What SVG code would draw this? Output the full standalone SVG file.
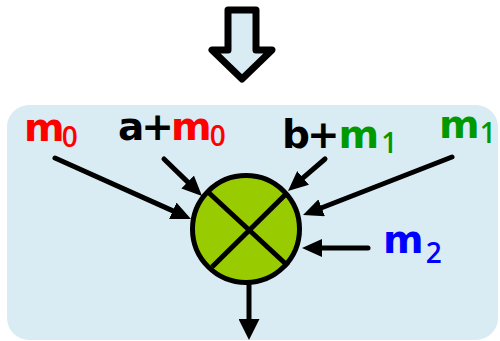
<svg xmlns="http://www.w3.org/2000/svg" width="500" height="341" viewBox="0 0 500 341">
<defs>
<style>
.lbl{font-family:"DejaVu Sans",Verdana,sans-serif;font-weight:bold;font-size:39px;letter-spacing:-3px}
.sub{font-family:"Open Sans","DejaVu Sans",sans-serif;font-weight:600;font-size:28px}
.r{fill:#ff0000}.g{fill:#009a00}.b{fill:#0000ff}.k{fill:#000}
.conn line{stroke:#000;stroke-width:5;stroke-linecap:round;marker-end:url(#ah)}
</style>
<marker id="ah" markerUnits="userSpaceOnUse" markerWidth="20" markerHeight="18" viewBox="0 0 20 18" refX="2" refY="9" orient="auto">
<path d="M0,0 L20,9 L0,18 z" fill="#000"/>
</marker>
<marker id="ah2" markerUnits="userSpaceOnUse" markerWidth="21" markerHeight="21" viewBox="0 0 21 21" refX="2" refY="10.5" orient="auto">
<path d="M0,0 L21,10.5 L0,21 z" fill="#000"/>
</marker>
</defs>
<g id="down-arrow">
<path d="M228,10 L256,10 L256,50 L272,50 L242,79 L212,50 L228,50 Z" fill="#daecf3" stroke="#000" stroke-width="7" stroke-linejoin="round"/>
</g>
<g id="panel">
<rect x="7" y="105" width="491" height="235" rx="22" fill="#daecf3"/>
</g>
<g id="multiplier">
<circle cx="246" cy="229" r="53.5" fill="#99cc00" stroke="#000" stroke-width="5"/>
<line x1="208" y1="192" x2="288" y2="266" stroke="#000" stroke-width="5"/>
<line x1="287" y1="193" x2="212" y2="267" stroke="#000" stroke-width="5"/>
</g>
<g id="connectors" class="conn">
<line x1="55" y1="158" x2="174.6" y2="211.6"/>
<line x1="164" y1="159" x2="189.1" y2="183.4"/>
<line x1="325" y1="159" x2="301.6" y2="179.2"/>
<line x1="452" y1="157" x2="319.8" y2="208.5"/>
<line x1="368" y1="248" x2="320" y2="248"/>
<line x1="249" y1="285" x2="249" y2="321" style="marker-end:url(#ah2)"/>
</g>
<g id="label-m0">
<text x="24" y="141"><tspan class="lbl r">m</tspan><tspan class="sub r" dy="6">0</tspan></text>
</g>
<g id="label-a-m0">
<text x="118" y="140"><tspan class="lbl k">a+</tspan><tspan class="lbl r">m</tspan><tspan class="sub r" dx="1" dy="6">0</tspan></text>
</g>
<g id="label-b-m1">
<text x="282" y="148"><tspan class="lbl k">b+</tspan><tspan class="lbl g" dx="2">m</tspan><tspan class="sub g" dx="5" dy="5">1</tspan></text>
</g>
<g id="label-m1">
<text x="439" y="138"><tspan class="lbl g">m</tspan><tspan class="sub g" dx="3" dy="5">1</tspan></text>
</g>
<g id="label-m2">
<text x="383" y="253"><tspan class="lbl b">m</tspan><tspan class="sub b" dx="5" dy="10">2</tspan></text>
</g>
</svg>
